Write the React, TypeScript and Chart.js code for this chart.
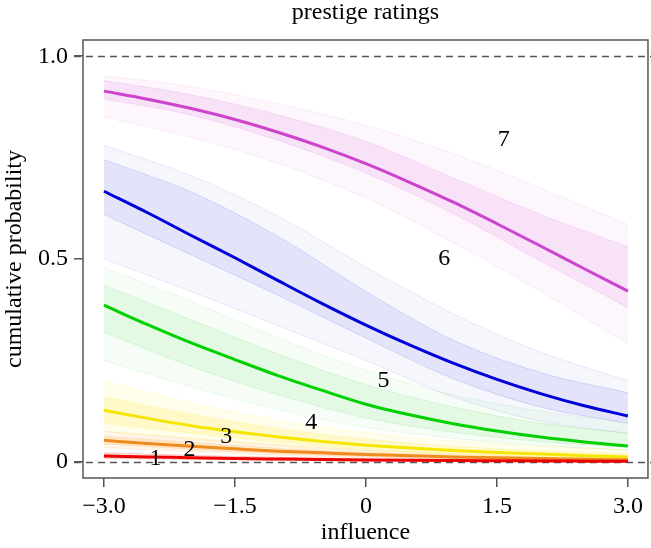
import React, { useEffect, useRef } from 'react';
import { Chart, registerables } from 'chart.js';

Chart.register(...registerables);

// x grid of the posterior-mean curves (influence)
const xs = [-3, -2.5, -2, -1.5, -1, -0.5, 0, 0.5, 1, 1.5, 2, 2.5, 3];
// cumulative probability P(rating <= k), k = 1..6 (mean curves)
const cumLe1 = [0.014, 0.012, 0.010, 0.008, 0.0067, 0.0055, 0.0045, 0.0037, 0.003, 0.0025, 0.002, 0.0016, 0.0013];
const cumLe2 = [0.053, 0.045, 0.038, 0.032, 0.026, 0.022, 0.018, 0.015, 0.012, 0.010, 0.008, 0.006, 0.005];
const cumLe3 = [0.127, 0.107, 0.089, 0.074, 0.061, 0.050, 0.041, 0.034, 0.028, 0.023, 0.019, 0.015, 0.012];
const cumLe4 = [0.386, 0.338, 0.293, 0.252, 0.212, 0.176, 0.142, 0.116, 0.094, 0.076, 0.061, 0.049, 0.039];
const cumLe5 = [0.667, 0.614, 0.558, 0.503, 0.446, 0.390, 0.337, 0.288, 0.243, 0.203, 0.168, 0.138, 0.113];
const cumLe6 = [0.914, 0.894, 0.871, 0.844, 0.812, 0.776, 0.735, 0.689, 0.640, 0.587, 0.532, 0.476, 0.421];

// spread of posterior sample curves (outer = faint extremes, inner = dense core)
const bandX = [-3, -2, -1, 0, 1, 2, 3];
const le1OuterHi = [0.022, 0.016, 0.011, 0.007, 0.005, 0.003, 0.002];
const le1OuterLo = [0.008, 0.006, 0.004, 0.002, 0.001, 0.0005, 0.0003];
const le2OuterHi = [0.075, 0.058, 0.042, 0.029, 0.019, 0.012, 0.008];
const le2OuterLo = [0.035, 0.025, 0.016, 0.010, 0.006, 0.004, 0.002];
const le2InnerHi = [0.063, 0.048, 0.033, 0.022, 0.014, 0.009, 0.006];
const le2InnerLo = [0.044, 0.031, 0.020, 0.013, 0.008, 0.005, 0.003];
const le3OuterHi = [0.200, 0.145, 0.102, 0.072, 0.051, 0.038, 0.030];
const le3OuterLo = [0.075, 0.055, 0.038, 0.024, 0.015, 0.009, 0.006];
const le3InnerHi = [0.160, 0.118, 0.082, 0.056, 0.038, 0.027, 0.020];
const le3InnerLo = [0.095, 0.070, 0.048, 0.031, 0.020, 0.013, 0.009];
const le4OuterHi = [0.480, 0.395, 0.305, 0.225, 0.165, 0.125, 0.095];
const le4OuterLo = [0.250, 0.185, 0.128, 0.085, 0.058, 0.040, 0.029];
const le4InnerHi = [0.435, 0.350, 0.265, 0.190, 0.135, 0.095, 0.070];
const le4InnerLo = [0.320, 0.235, 0.165, 0.108, 0.073, 0.050, 0.036];
const le5OuterHi = [0.780, 0.705, 0.605, 0.480, 0.365, 0.270, 0.200];
const le5OuterLo = [0.500, 0.420, 0.335, 0.250, 0.160, 0.100, 0.070];
const le5InnerHi = [0.745, 0.665, 0.555, 0.420, 0.300, 0.220, 0.170];
const le5InnerLo = [0.610, 0.510, 0.410, 0.305, 0.205, 0.135, 0.095];
const le6OuterHi = [0.952, 0.925, 0.882, 0.830, 0.760, 0.675, 0.585];
const le6OuterLo = [0.850, 0.800, 0.735, 0.650, 0.540, 0.420, 0.290];
const le6InnerHi = [0.940, 0.905, 0.855, 0.790, 0.700, 0.610, 0.530];
const le6InnerLo = [0.895, 0.855, 0.792, 0.712, 0.612, 0.495, 0.380];

// rating labels placed between curves
const ratingLabels = ['1', '2', '3', '4', '5', '6', '7'];
const ratingLabelX = [-2.41, -2.02, -1.6, -0.625, 0.2, 0.897, 1.577];
const ratingLabelY = [0.008, 0.029, 0.063, 0.096, 0.2, 0.501, 0.793];

const xTickValues = [-3, -1.5, 0, 1.5, 3];
const xTickLabels = ['\u22123.0', '\u22121.5', '0', '1.5', '3.0'];
const yTickValues = [0, 0.5, 1];
const yTickLabels = ['0', '0.5', '1.0'];
const refLines = [0, 1];

const titleText = 'prestige ratings';
const xTitle = 'influence';
const yTitle = 'cumulative probability';

const FONT = "'Liberation Serif', 'Times New Roman', serif";

const pts = (x: number[], y: number[]) => x.map((v, i) => ({ x: v, y: y[i] }));

function bandPair(hi: number[], lo: number[], rgb: string, alpha: number, edgeAlpha: number) {
  return [
    {
      data: pts(bandX, hi),
      borderWidth: 0.8,
      borderColor: `rgba(${rgb},${edgeAlpha})`,
      backgroundColor: `rgba(${rgb},${alpha})`,
      pointRadius: 0,
      fill: '+1',
      cubicInterpolationMode: 'monotone',
      order: 2,
    },
    {
      data: pts(bandX, lo),
      borderWidth: 0.8,
      borderColor: `rgba(${rgb},${edgeAlpha})`,
      backgroundColor: 'rgba(0,0,0,0)',
      pointRadius: 0,
      fill: false,
      cubicInterpolationMode: 'monotone',
      order: 2,
    },
  ];
}

function mainLine(y: number[], color: string) {
  return {
    data: pts(xs, y),
    borderColor: color,
    borderWidth: 3,
    pointRadius: 0,
    fill: false,
    cubicInterpolationMode: 'monotone',
    order: 0,
  };
}

const decorPlugin = {
  id: 'decor',
  beforeDatasetsDraw(chart: any) {
    const { ctx, chartArea, scales } = chart;
    ctx.save();
    ctx.strokeStyle = '#555';
    ctx.lineWidth = 1.3;
    ctx.setLineDash([7, 5]);
    for (const v of refLines) {
      const y = Math.round(scales.y.getPixelForValue(v)) + 0.5;
      ctx.beginPath();
      ctx.moveTo(chartArea.left - 9, y);
      ctx.lineTo(chart.width, y);
      ctx.stroke();
    }
    ctx.restore();
  },
  afterDatasetsDraw(chart: any) {
    const { ctx, chartArea, scales } = chart;
    ctx.save();
    ctx.strokeStyle = '#555';
    ctx.lineWidth = 1.5;
    ctx.setLineDash([]);
    ctx.strokeRect(chartArea.left, chartArea.top, chartArea.right - chartArea.left, chartArea.bottom - chartArea.top);
    ctx.fillStyle = '#000';
    ctx.font = `24px ${FONT}`;
    ctx.textAlign = 'center';
    ctx.textBaseline = 'middle';
    ratingLabels.forEach((t, i) => {
      ctx.fillText(t, scales.x.getPixelForValue(ratingLabelX[i]), scales.y.getPixelForValue(ratingLabelY[i]));
    });
    ctx.restore();
  },
};

export default function App() {
  const ref = useRef<HTMLCanvasElement | null>(null);
  useEffect(() => {
    document.body.style.margin = '0';
    const canvas = ref.current;
    if (!canvas) return;
    Chart.defaults.font.family = FONT;
    const datasets: any[] = [
      mainLine(cumLe1, '#EE0000'),
      mainLine(cumLe2, '#F08A1E'),
      mainLine(cumLe3, '#F5E600'),
      mainLine(cumLe4, '#00D000'),
      mainLine(cumLe5, '#0000D8'),
      mainLine(cumLe6, '#CC44CC'),
      ...bandPair(le6OuterHi, le6OuterLo, '215,80,215', 0.05, 0.12),
      ...bandPair(le6InnerHi, le6InnerLo, '215,80,215', 0.12, 0.2),
      ...bandPair(le5OuterHi, le5OuterLo, '40,40,220', 0.045, 0.12),
      ...bandPair(le5InnerHi, le5InnerLo, '40,40,220', 0.09, 0.18),
      ...bandPair(le4OuterHi, le4OuterLo, '40,210,40', 0.045, 0.12),
      ...bandPair(le4InnerHi, le4InnerLo, '40,210,40', 0.09, 0.18),
      ...bandPair(le3OuterHi, le3OuterLo, '255,230,0', 0.08, 0.15),
      ...bandPair(le3InnerHi, le3InnerLo, '255,230,0', 0.14, 0.2),
      ...bandPair(le2OuterHi, le2OuterLo, '255,140,0', 0.08, 0.15),
      ...bandPair(le2InnerHi, le2InnerLo, '255,140,0', 0.14, 0.2),
      ...bandPair(le1OuterHi, le1OuterLo, '255,0,0', 0.12, 0.2),
    ];
    const tickFont = { family: FONT, size: 24, lineHeight: 1 };
    const chart = new Chart(canvas, {
      type: 'line',
      data: { datasets },
      plugins: [decorPlugin],
      options: {
        animation: false,
        responsive: false,
        maintainAspectRatio: false,
        events: [],
        layout: { padding: { left: 0, right: 3, top: 0, bottom: 0 } },
        plugins: {
          legend: { display: false },
          tooltip: { enabled: false },
          title: {
            display: true,
            text: titleText,
            color: '#000',
            fullSize: false,
            font: { family: FONT, size: 24, weight: 'normal', lineHeight: 1 },
            padding: { top: 1, bottom: 15 },
          },
        },
        scales: {
          x: {
            type: 'linear',
            min: -3.24,
            max: 3.23,
            afterBuildTicks: (s: any) => {
              s.ticks = xTickValues.map((v) => ({ value: v }));
            },
            afterFit: (s: any) => {
              s.height = 70;
            },
            ticks: {
              color: '#000',
              font: tickFont,
              padding: 8,
              maxRotation: 0,
              autoSkip: false,
              callback: (v: any) => {
                const i = xTickValues.indexOf(Number(v));
                return i >= 0 ? xTickLabels[i] : '';
              },
            },
            grid: { drawOnChartArea: false, drawTicks: true, tickLength: 9, color: '#555', lineWidth: 1.5 },
            border: { display: false },
            title: {
              display: true,
              text: xTitle,
              color: '#000',
              font: { family: FONT, size: 24, lineHeight: 1 },
              padding: { top: 0, bottom: 3 },
            },
          },
          y: {
            type: 'linear',
            min: -0.04,
            max: 1.04,
            afterBuildTicks: (s: any) => {
              s.ticks = yTickValues.map((v) => ({ value: v }));
            },
            afterFit: (s: any) => {
              s.width = 83;
            },
            ticks: {
              color: '#000',
              font: tickFont,
              padding: 6,
              autoSkip: false,
              callback: (v: any) => {
                const i = yTickValues.indexOf(Number(v));
                return i >= 0 ? yTickLabels[i] : '';
              },
            },
            grid: { drawOnChartArea: false, drawTicks: true, tickLength: 9, color: '#555', lineWidth: 1.5 },
            border: { display: false },
            title: {
              display: true,
              text: yTitle,
              color: '#000',
              font: { family: FONT, size: 24, lineHeight: 1 },
              padding: { top: 3, bottom: 0 },
            },
          },
        },
      } as any,
    });
    return () => chart.destroy();
  }, []);
  return <canvas ref={ref} width={651} height={548} style={{ display: 'block' }} />;
}
